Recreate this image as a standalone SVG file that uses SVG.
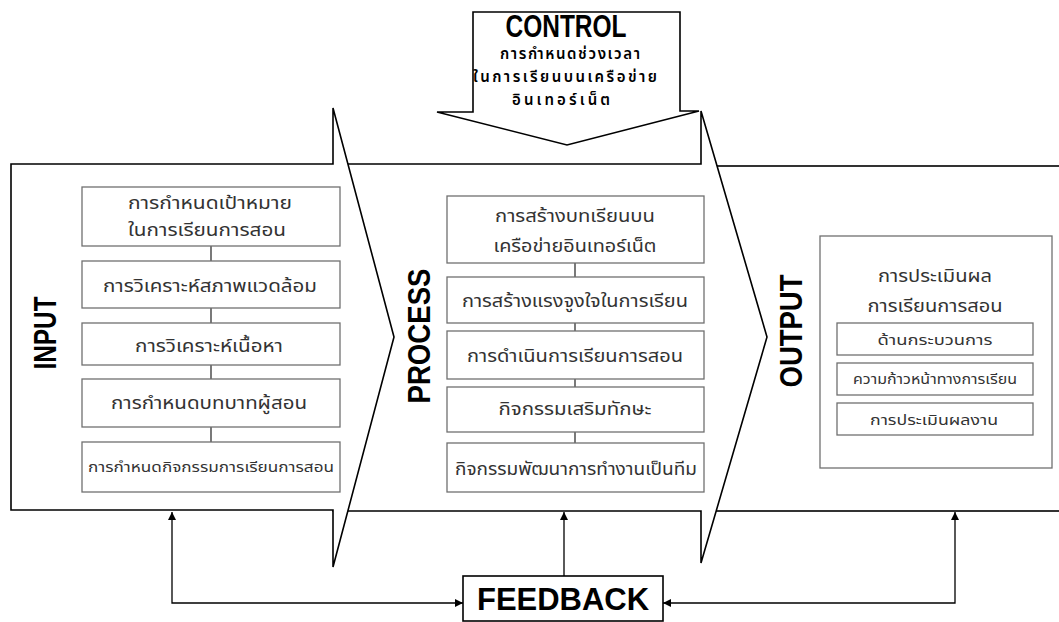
<svg xmlns="http://www.w3.org/2000/svg" width="1059" height="622" viewBox="0 0 1059 622">
<defs>
<style>
.big{fill:#fff;stroke:#000;stroke-width:1.6}
.box{fill:#fff;stroke:#707070;stroke-width:1.3}
.ln{stroke:#333;stroke-width:1.3;fill:none}
.th{font-family:"Noto Sans Thai","Noto Sans","DejaVu Sans",sans-serif;font-size:17px;fill:#333;text-anchor:middle}
.ths{font-size:14.5px}
.lab{font-family:"Liberation Sans",Arial,sans-serif;font-weight:bold;font-size:32px;fill:#000;text-anchor:middle}
.ctl{font-family:"Noto Sans Thai","Noto Sans","DejaVu Sans",sans-serif;font-weight:600;font-size:15px;fill:#000;text-anchor:middle}
.fb{stroke:#000;stroke-width:1.3;fill:none}
</style>
<marker id="ah" viewBox="0 0 10 10" refX="10" refY="5" markerWidth="8" markerHeight="8" markerUnits="userSpaceOnUse" orient="auto-start-reverse">
<path d="M0,0 L10,5 L0,10 z" fill="#000"/>
</marker>
</defs>

<g id="output">
<rect class="big" x="701" y="166" width="380" height="345"/>
</g>
<g id="process">
<polygon class="big" points="333,164 701,164 701,111 767,337 701,563 701,511 333,511"/>
</g>
<g id="input">
<polygon class="big" points="11,164 333,164 333,108 394,337 333,567 333,510 11,510"/>
</g>
<g id="control">
<polygon class="big" points="473,12 680,12 680,111 699,111 567,145 437,112 473,112"/>
<text class="lab" x="566" y="37" font-size="21" textLength="121" lengthAdjust="spacingAndGlyphs">CONTROL</text>
<text class="ctl" x="570" y="59" textLength="140" lengthAdjust="spacing">การกำหนดช่วงเวลา</text>
<text class="ctl" x="565" y="82" textLength="184" lengthAdjust="spacing">ในการเรียนบนเครือข่าย</text>
<text class="ctl" x="561" y="105" textLength="98" lengthAdjust="spacing">อินเทอร์เน็ต</text>
</g>

<g id="connectors">
<path class="ln" d="M211,246 V261 M211,308 V323 M211,365 V379 M211,427 V442"/>
<path class="ln" d="M575,263 V277 M575,323 V331 M575,379 V387 M575,432 V443"/>
<path class="ln" d="M935,355 V363 M935,395 V403"/>
<path class="fb" d="M463,603 H172 V512" marker-start="url(#ah)" marker-end="url(#ah)"/>
<path class="fb" d="M564,576 V512" marker-end="url(#ah)"/>
<path class="fb" d="M663,603 H955 V512" marker-start="url(#ah)" marker-end="url(#ah)"/>
</g>

<g id="label-input"><text class="lab" transform="translate(56,333) rotate(-90)" textLength="73" lengthAdjust="spacingAndGlyphs">INPUT</text></g>
<g id="label-process"><text class="lab" transform="translate(430,336) rotate(-90)" textLength="135" lengthAdjust="spacingAndGlyphs">PROCESS</text></g>
<g id="label-output"><text class="lab" transform="translate(802,331) rotate(-90)" textLength="113" lengthAdjust="spacingAndGlyphs">OUTPUT</text></g>

<g id="in1"><rect class="box" x="82" y="187" width="258" height="59"/>
<text class="th" x="210" y="209" textLength="164" lengthAdjust="spacingAndGlyphs">การกำหนดเป้าหมาย</text>
<text class="th" x="207" y="236" textLength="158" lengthAdjust="spacingAndGlyphs">ในการเรียนการสอน</text></g>
<g id="in2"><rect class="box" x="82" y="261" width="258" height="47"/>
<text class="th" x="210" y="292" textLength="214" lengthAdjust="spacingAndGlyphs">การวิเคราะห์สภาพแวดล้อม</text></g>
<g id="in3"><rect class="box" x="82" y="323" width="258" height="42"/>
<text class="th" x="209" y="352" textLength="148" lengthAdjust="spacingAndGlyphs">การวิเคราะห์เนื้อหา</text></g>
<g id="in4"><rect class="box" x="82" y="379" width="258" height="48"/>
<text class="th" x="209" y="409" textLength="196" lengthAdjust="spacingAndGlyphs">การกำหนดบทบาทผู้สอน</text></g>
<g id="in5"><rect class="box" x="82" y="442" width="258" height="50"/>
<text class="th ths" x="211" y="472" textLength="246" lengthAdjust="spacingAndGlyphs">การกำหนดกิจกรรมการเรียนการสอน</text></g>

<g id="pr1"><rect class="box" x="447" y="196" width="257" height="67"/>
<text class="th" x="575" y="222" textLength="160" lengthAdjust="spacingAndGlyphs">การสร้างบทเรียนบน</text>
<text class="th" x="575" y="252" textLength="163" lengthAdjust="spacingAndGlyphs">เครือข่ายอินเทอร์เน็ต</text></g>
<g id="pr2"><rect class="box" x="447" y="277" width="257" height="46"/>
<text class="th" x="575" y="307" textLength="226" lengthAdjust="spacingAndGlyphs">การสร้างแรงจูงใจในการเรียน</text></g>
<g id="pr3"><rect class="box" x="447" y="331" width="257" height="48"/>
<text class="th" x="575" y="362" textLength="216" lengthAdjust="spacingAndGlyphs">การดำเนินการเรียนการสอน</text></g>
<g id="pr4"><rect class="box" x="447" y="387" width="257" height="45"/>
<text class="th" x="575" y="415" textLength="153" lengthAdjust="spacingAndGlyphs">กิจกรรมเสริมทักษะ</text></g>
<g id="pr5"><rect class="box" x="447" y="443" width="257" height="49"/>
<text class="th" x="576" y="475" textLength="242" lengthAdjust="spacingAndGlyphs">กิจกรรมพัฒนาการทำงานเป็นทีม</text></g>

<g id="out"><rect class="box" x="820" y="236" width="232" height="232"/>
<text class="th" x="935" y="282" textLength="114" lengthAdjust="spacingAndGlyphs">การประเมินผล</text>
<text class="th" x="935" y="312" textLength="135" lengthAdjust="spacingAndGlyphs">การเรียนการสอน</text></g>
<g id="out1"><rect class="box" x="837" y="323" width="196" height="32"/>
<text class="th ths" x="935" y="345" textLength="115" lengthAdjust="spacingAndGlyphs">ด้านกระบวนการ</text></g>
<g id="out2"><rect class="box" x="837" y="363" width="196" height="32"/>
<text class="th ths" x="935" y="384" textLength="164" lengthAdjust="spacingAndGlyphs">ความก้าวหน้าทางการเรียน</text></g>
<g id="out3"><rect class="box" x="837" y="403" width="196" height="32"/>
<text class="th ths" x="934" y="425" textLength="128" lengthAdjust="spacingAndGlyphs">การประเมินผลงาน</text></g>

<g id="feedback"><rect class="big" x="463" y="576" width="200" height="45"/>
<text class="lab" x="563" y="610" font-size="28" textLength="172" lengthAdjust="spacingAndGlyphs">FEEDBACK</text></g>
</svg>
